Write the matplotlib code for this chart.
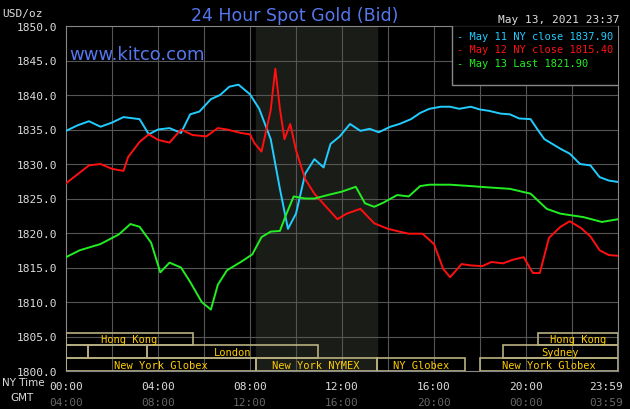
import matplotlib.pyplot as plt
from matplotlib.patches import Rectangle

# hours since 00:00 NY time, price USD/oz
blue_h = [0, 0.5, 1.0, 1.5, 2.0, 2.5, 3.2, 3.6, 4.0, 4.5, 5.0, 5.4, 5.8, 6.3, 6.7, 7.1, 7.5, 8.0, 8.4, 8.9, 9.3, 9.65,
          10.0, 10.4, 10.8, 11.2, 11.5, 11.9, 12.35, 12.8, 13.2, 13.6, 14.1, 14.5, 15.0, 15.4, 15.8, 16.3, 16.7, 17.1,
          17.6, 18.0, 18.4, 18.9, 19.3, 19.7, 20.2, 20.5, 20.8, 21.1, 21.5, 21.9, 22.35, 22.8, 23.2, 23.6, 24.0]
blue_p = [1834.8, 1835.6, 1836.2, 1835.4, 1836.0, 1836.8, 1836.5, 1834.3, 1835.0, 1835.2, 1834.5, 1837.2, 1837.6, 1839.4,
          1840.0, 1841.2, 1841.5, 1840.1, 1838.0, 1833.6, 1826.4, 1820.6, 1822.8, 1828.6, 1830.7, 1829.5, 1832.9, 1834.0,
          1835.8, 1834.8, 1835.1, 1834.6, 1835.4, 1835.8, 1836.5, 1837.4, 1838.0, 1838.3, 1838.3, 1838.0, 1838.3, 1837.9,
          1837.7, 1837.3, 1837.2, 1836.6, 1836.5, 1835.0, 1833.6, 1833.0, 1832.2, 1831.5, 1830.0, 1829.8, 1828.1, 1827.6, 1827.4]
red_h = [0, 0.5, 1.0, 1.5, 2.0, 2.5, 2.7, 3.2, 3.6, 4.0, 4.5, 5.0, 5.5, 6.1, 6.6, 7.0, 7.6, 8.0, 8.2, 8.5, 8.9, 9.1,
         9.3, 9.5, 9.75, 10.0, 10.4, 10.8, 11.2, 11.8, 12.2, 12.8, 13.4, 14.0, 14.5, 14.9, 15.5, 16.0, 16.4, 16.7,
         17.2, 17.6, 18.1, 18.5, 19.0, 19.4, 19.9, 20.3, 20.6, 21.0, 21.5, 21.9, 22.4, 22.8, 23.2, 23.6, 24.0]
red_p = [1827.2, 1828.5, 1829.8, 1830.0, 1829.3, 1829.0, 1831.0, 1833.2, 1834.3, 1833.5, 1833.1, 1835.0, 1834.2, 1834.0,
         1835.2, 1835.0, 1834.5, 1834.3, 1833.0, 1831.8, 1837.8, 1843.8, 1838.0, 1833.6, 1835.8, 1832.0, 1827.8, 1825.7,
         1824.2, 1822.0, 1822.8, 1823.5, 1821.4, 1820.6, 1820.2, 1819.9, 1819.9, 1818.4, 1814.8, 1813.6, 1815.5, 1815.3,
         1815.2, 1815.8, 1815.6, 1816.1, 1816.5, 1814.2, 1814.2, 1819.3, 1820.9, 1821.7, 1820.7, 1819.5, 1817.5, 1816.8, 1816.7]
green_h = [0, 0.6, 1.5, 2.3, 2.8, 3.2, 3.7, 4.1, 4.5, 5.0, 5.4, 5.9, 6.3, 6.6, 7.0, 7.6, 8.1, 8.5, 8.9, 9.3, 9.55,
           9.9, 10.4, 10.8, 11.5, 12.0, 12.6, 13.0, 13.4, 13.8, 14.4, 14.9, 15.4, 15.8, 16.7, 17.6, 18.4, 19.3, 20.2,
           20.9, 21.5, 22.5, 23.3, 24.0]
green_p = [1816.5, 1817.5, 1818.4, 1819.8, 1821.3, 1820.9, 1818.6, 1814.3, 1815.7, 1815.0, 1812.9, 1810.0, 1808.9, 1812.5,
           1814.6, 1815.8, 1816.9, 1819.4, 1820.2, 1820.3, 1822.5, 1825.3, 1825.0, 1825.0, 1825.6, 1826.0, 1826.7, 1824.3,
           1823.8, 1824.4, 1825.5, 1825.3, 1826.8, 1827.0, 1827.0, 1826.8, 1826.6, 1826.4, 1825.7, 1823.5, 1822.8, 1822.3,
           1821.6, 1822.0]

# session bars: (label, start hour, end hour, row)
sessions = [("Hong Kong", 0, 5.5, 0), ("Hong Kong", 20.5, 24, 0),
            ("", 0, 0.95, 1), ("", 0.95, 3.5, 1), ("London", 3.5, 10.95, 1), ("Sydney", 19.0, 24, 1),
            ("New York Globex", 0, 8.25, 2), ("New York NYMEX", 8.25, 13.5, 2), ("NY Globex", 13.5, 17.35, 2),
            ("New York Globex", 18.0, 24, 2)]
ny_ticks = ["00:00", "04:00", "08:00", "12:00", "16:00", "20:00", "23:59"]
gmt_ticks = ["04:00", "08:00", "12:00", "16:00", "20:00", "00:00", "03:59"]

fig = plt.figure(figsize=(6.3, 4.1), dpi=100, facecolor="black")
ax = fig.add_axes([66 / 630, 1 - 372 / 410, 552 / 630, 345 / 410])
ax.set_facecolor("black")
ax.set_xlim(0, 24)
ax.set_ylim(1800, 1850)
mono = "DejaVu Sans Mono"

ax.axvspan(8.25, 13.5, color="#1a1c18", zorder=0)
for h in range(2, 24, 2):
    ax.axvline(h, color="#555555", lw=0.8, zorder=1)
for p in range(1805, 1850, 5):
    ax.axhline(p, color="#555555", lw=0.8, zorder=1)

ax.plot(blue_h, blue_p, color="#22ccff", lw=1.4, zorder=3)
ax.plot(red_h, red_p, color="#ff1010", lw=1.4, zorder=3)
ax.plot(green_h, green_p, color="#22ee22", lw=1.4, zorder=3)

row_h = 1.85
for label, a, b, row in sessions:
    y0 = 1800 + (2 - row) * row_h
    ax.add_patch(Rectangle((a, y0), b - a, row_h, fill=False, edgecolor="#b8b080", lw=1.2, zorder=4))
    if label:
        ax.text((a + b) / 2, y0 + row_h / 2, label, color="#ffcc00", fontsize=7.5, family=mono,
                ha="center", va="center", zorder=5)

for s in ax.spines.values():
    s.set_color("#888888")
ax.set_xticks([])
ax.set_yticks(range(1800, 1851, 5))
ax.set_yticklabels([f"{v}.0" for v in range(1800, 1851, 5)], color="#dddddd", family=mono, fontsize=8)
ax.tick_params(axis="y", length=0, pad=6)

for i, (a, b) in enumerate(zip(ny_ticks, gmt_ticks)):
    h = [0, 4, 8, 12, 16, 20, 24][i]
    ha = "right" if i == 6 else "center"
    xo = 24.2 if i == 6 else h
    ax.text(xo, 1797.8, a, color="#dddddd", family=mono, fontsize=8, ha=ha, va="center", clip_on=False)
    ax.text(xo, 1795.5, b, color="#666666", family=mono, fontsize=8, ha=ha, va="center", clip_on=False)
fig.text(2 / 630, 1 - 383 / 410, "NY Time", color="#dddddd", fontsize=7.5, va="center")
fig.text(10 / 630, 1 - 398 / 410, "GMT", color="#dddddd", fontsize=7.5, va="center")

fig.text(2 / 630, 1 - 14 / 410, "USD/oz", color="#dddddd", family=mono, fontsize=8, va="center")
fig.text(295 / 630, 1 - 16 / 410, "24 Hour Spot Gold (Bid)", color="#5577ee", fontsize=12.5,
         ha="center", va="center")
fig.text(620 / 630, 1 - 20 / 410, "May 13, 2021 23:37", color="#dddddd", family=mono, fontsize=8,
         ha="right", va="center")
ax.text(0.15, 1846, "www.kitco.com", color="#5577ee", fontsize=13, va="center", zorder=5)

ax.add_patch(Rectangle((16.8, 1841.5), 7.3, 8.6, facecolor="black", edgecolor="#888888", lw=1, zorder=5))
leg = [("- May 11 NY close 1837.90", "#22ccff"), ("- May 12 NY close 1815.40", "#ff1010"),
       ("- May 13 Last 1821.90", "#22ee22")]
for i, (t, c) in enumerate(leg):
    ax.text(17.0, 1848.6 - i * 2.0, t, color=c, family=mono, fontsize=7.5, va="center", zorder=6)

fig.savefig("out.png", dpi=100, facecolor="black")
